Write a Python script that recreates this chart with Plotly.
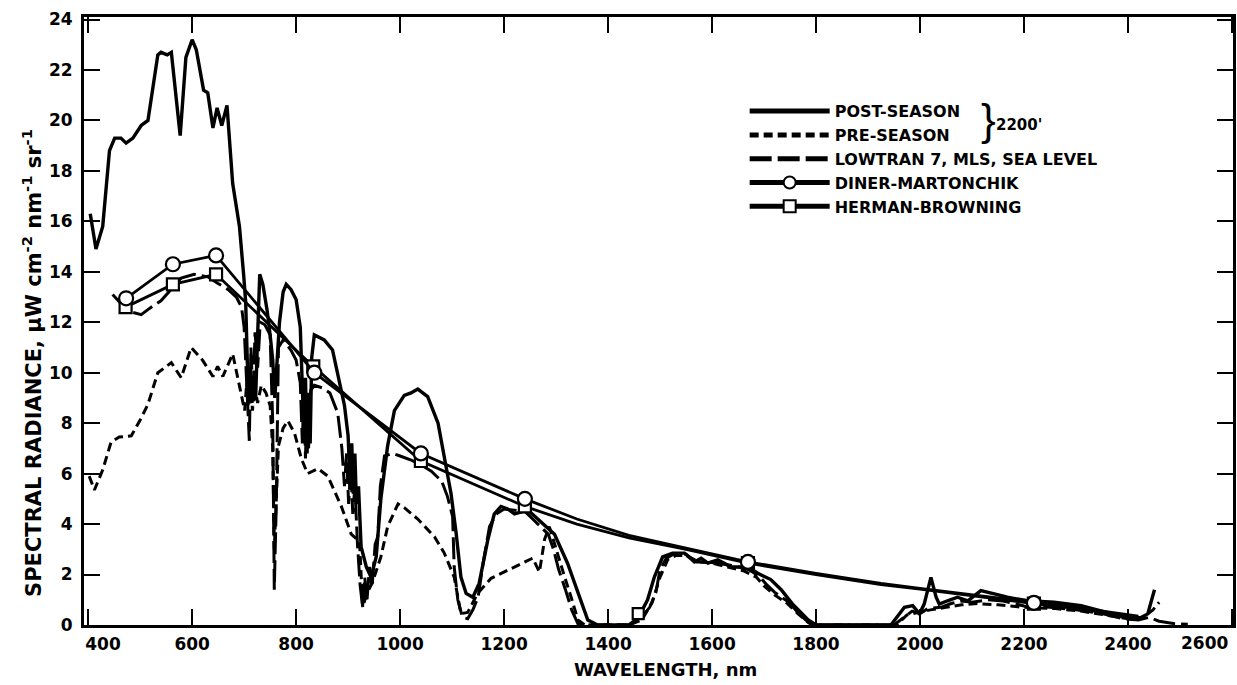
import plotly.graph_objects as go

# ---------------- data ----------------
post_nm = [404, 415, 428, 441, 451, 463, 473, 486, 502, 515, 534, 540, 552, 560, 577, 588, 600, 608, 622, 630,
           640, 648, 657, 667, 678, 691, 699, 703, 706, 709, 712, 715, 718, 722, 726, 730, 736, 744, 750, 755,
           759, 763, 768, 775, 781, 790, 800, 808, 812, 815, 818, 821, 824, 827, 830, 835, 845, 854, 870, 880,
           893, 900, 904, 907, 910, 913, 916, 920, 925, 935, 944, 954, 963, 976, 989, 1008, 1021, 1034, 1053, 1073,
           1085, 1098, 1108, 1117, 1127, 1140, 1152, 1169, 1181, 1194, 1207, 1220, 1246, 1265, 1297, 1322, 1342, 1361, 1380, 1440,
           1457, 1476, 1489, 1505, 1524, 1547, 1566, 1579, 1592, 1611, 1637, 1669, 1688, 1713, 1733, 1756, 1785, 1800, 1944, 1970,
           1986, 1999, 2008, 2021, 2031, 2037, 2053, 2072, 2092, 2117, 2143, 2168, 2207, 2258, 2310, 2361, 2406, 2425, 2438, 2451]
post_val = [16.3, 14.9, 15.8, 18.8, 19.3, 19.3, 19.1, 19.3, 19.8, 20.0, 22.6, 22.7, 22.6, 22.7, 19.4, 22.5, 23.2, 22.8, 21.2, 21.1,
            19.7, 20.5, 19.8, 20.6, 17.5, 15.8, 13.9, 12.8, 10.5, 9.0, 10.2, 8.8, 9.8, 8.9, 11.5, 13.9, 13.5, 12.5, 11.5, 10.5,
            9.0, 10.5, 12.0, 13.2, 13.5, 13.3, 12.9, 11.8, 9.5, 7.6, 9.8, 6.8, 9.2, 7.2, 10.6, 11.5, 11.4, 11.3, 10.9, 10.0,
            8.7, 7.5, 5.5, 7.2, 5.2, 6.8, 4.8, 5.5, 3.1, 2.3, 1.9, 2.7, 5.0, 7.1, 8.5, 9.1, 9.2, 9.35, 9.05, 8.0,
            6.7, 5.2, 3.6, 1.9, 1.25, 1.1, 1.65, 3.4, 4.4, 4.7, 4.6, 4.4, 4.55, 4.2, 3.6, 2.45, 1.25, 0.2, 0.0, 0.0,
            0.25, 1.0, 1.9, 2.7, 2.85, 2.85, 2.5, 2.65, 2.45, 2.58, 2.3, 2.3, 2.05, 1.8, 1.4, 0.8, 0.2, 0.0, 0.0, 0.7,
            0.77, 0.44, 0.83, 1.89, 1.1, 0.83, 0.96, 1.1, 0.96, 1.36, 1.23, 1.1, 0.96, 0.9, 0.77, 0.5, 0.24, 0.3, 0.44, 1.4]

pre_nm = [402, 412, 428, 444, 460, 483, 502, 515, 534, 560, 579, 598, 620, 640, 649, 659, 678, 694, 701, 705,
          708, 712, 716, 720, 726, 733, 742, 750, 755, 758, 762, 766, 775, 784, 797, 810, 822, 842, 861, 887,
          906, 922, 928, 935, 947, 963, 976, 996, 1008, 1034, 1066, 1085, 1104, 1117, 1130, 1149, 1175, 1220, 1255, 1268,
          1278, 1287, 1300, 1315, 1329, 1342, 1355, 1440, 1465, 1485, 1500, 1515, 1530, 1550, 1575, 1600, 1630, 1660, 1685, 1700,
          1720, 1745, 1765, 1785, 1795, 1955, 1975, 1995, 2020, 2050, 2080, 2110, 2150, 2200, 2260, 2310, 2360, 2400, 2430, 2448, 2460]
pre_val = [5.9, 5.35, 6.15, 7.25, 7.45, 7.5, 8.2, 8.75, 10.0, 10.4, 9.8, 11.0, 10.5, 9.85, 10.25, 9.85, 10.75, 9.2, 8.5, 9.6,
           8.7, 9.9, 8.5, 9.5, 8.8, 9.5, 9.2, 8.7, 7.0, 3.0, 5.2, 7.1, 7.8, 8.1, 7.6, 6.6, 6.0, 6.2, 5.9, 4.7,
           3.6, 3.3, 0.7, 1.2, 1.7, 2.7, 3.9, 4.8, 4.65, 4.2, 3.5, 2.85, 1.9, 0.45, 0.5, 1.25, 1.85, 2.3, 2.65, 2.1,
           3.4, 3.9, 3.0, 2.0, 1.1, 0.2, 0.0, 0.0, 0.2, 0.9, 1.9, 2.6, 2.75, 2.75, 2.5, 2.45, 2.3, 2.15, 1.9, 1.55,
           1.2, 0.85, 0.45, 0.1, 0.0, 0.0, 0.4, 0.5, 0.6, 0.7, 0.8, 0.85, 0.8, 0.7, 0.65, 0.55, 0.4, 0.25, 0.3, 0.6, 0.9]

low_nm = [447, 476, 502, 518, 540, 560, 579, 604, 630, 649, 669, 685, 695, 700, 705, 710, 713, 717, 721, 726,
          731, 740, 750, 755, 758, 762, 766, 775, 790, 800, 808, 812, 815, 818, 821, 824, 828, 835, 850, 865,
          880, 888, 893, 897, 901, 905, 909, 913, 918, 923, 928, 932, 936, 941, 946, 952, 957, 962, 970, 985,
          1000, 1020, 1040, 1060, 1080, 1091, 1101, 1104, 1111, 1120, 1130, 1140, 1150, 1160, 1172, 1185, 1200, 1220, 1240, 1255,
          1270, 1285, 1295, 1305, 1318, 1330, 1342, 1355, 1440, 1460, 1480, 1492, 1500, 1512, 1525, 1550, 1570, 1590, 1610, 1640,
          1670, 1690, 1705, 1720, 1748, 1765, 1780, 1792, 1950, 1965, 1985, 2000, 2015, 2040, 2060, 2080, 2100, 2130, 2160, 2200,
          2250, 2300, 2350, 2390, 2420, 2440, 2460, 2490, 2515]
low_val = [13.1, 12.45, 12.3, 12.55, 12.85, 13.3, 13.75, 13.9, 13.8, 13.55, 13.3, 13.0, 12.6, 11.8, 9.2, 7.3, 11.0, 9.0, 11.6, 10.2,
           12.0, 11.9, 11.5, 8.0, 1.4, 5.0, 11.0, 11.3, 10.9, 10.5, 9.6, 7.2, 9.5, 6.6, 9.0, 7.0, 9.3, 9.5, 9.4, 9.2,
           8.4, 7.0, 5.5, 6.8, 4.8, 6.3, 4.4, 5.5, 3.2, 1.6, 0.7, 1.9, 0.9, 2.3, 1.5, 3.2, 3.5, 5.5, 6.7, 6.8,
           6.7, 6.55, 6.35, 6.1, 5.7, 5.1, 4.3, 2.3, 1.0, 0.3, 0.25, 0.6, 1.1, 2.5, 3.9, 4.4, 4.6, 4.55, 4.5, 4.2,
           3.9, 3.6, 3.0, 2.2, 1.4, 0.6, 0.05, 0.0, 0.0, 0.2, 0.7, 1.3, 2.2, 2.65, 2.8, 2.8, 2.5, 2.5, 2.45, 2.35,
           2.2, 1.95, 1.6, 1.3, 0.9, 0.5, 0.2, 0.0, 0.0, 0.25, 0.55, 0.45, 0.65, 0.7, 0.85, 0.95, 0.9, 1.0, 0.95, 0.75,
           0.7, 0.6, 0.45, 0.25, 0.2, 0.3, 0.15, 0.05, 0.03]

dm_nm = [473, 563, 646, 835, 1040, 1240, 1340, 1440, 1550, 1669, 1800, 1925, 2000, 2100, 2219, 2300, 2420]
dm_val = [12.95, 14.3, 14.65, 10.0, 6.8, 5.0, 4.2, 3.55, 3.05, 2.5, 2.05, 1.65, 1.45, 1.2, 0.88, 0.7, 0.35]
dm_sampled = [1, 1, 1, 1, 1, 1, 0, 0, 0, 1, 0, 0, 0, 0, 1, 0, 0]

hb_nm = [472, 563, 646, 833, 1040, 1240, 1340, 1440, 1550, 1669, 1800, 1925, 2000, 2100, 2219, 2300, 2420]
hb_val = [12.6, 13.5, 13.9, 10.25, 6.5, 4.7, 4.0, 3.45, 3.0, 2.45, 2.0, 1.6, 1.42, 1.15, 0.85, 0.65, 0.3]
hb_sampled = [1, 1, 1, 1, 1, 1, 0, 0, 0, 1, 0, 0, 0, 0, 1, 0, 0]

hb_extra_nm = [1458]
hb_extra_val = [0.45]

x_ticks = [400, 600, 800, 1000, 1200, 1400, 1600, 1800, 2000, 2200, 2400, 2600]
y_ticks = [0, 2, 4, 6, 8, 10, 12, 14, 16, 18, 20, 22, 24]

# ---------------- figure ----------------
FONT = "DejaVu Sans, Liberation Sans, sans-serif"
BLACK = "#000000"
NB = "\u00a0"

fig = go.Figure()

fig.add_trace(go.Scatter(x=post_nm, y=post_val, mode="lines", name="POST-SEASON",
                         line=dict(color=BLACK, width=3.4), legendrank=1))
fig.add_trace(go.Scatter(x=pre_nm, y=pre_val, mode="lines", name="PRE-SEASON",
                         line=dict(color=BLACK, width=3, dash="9px,5px"), legendrank=2))
fig.add_trace(go.Scatter(x=low_nm, y=low_val, mode="lines", name="LOWTRAN 7, MLS, SEA LEVEL",
                         line=dict(color=BLACK, width=3, dash="22px,6px"), legendrank=3))
fig.add_trace(go.Scatter(x=hb_nm, y=hb_val, mode="lines+markers", name="HERMAN-BROWNING",
                         line=dict(color=BLACK, width=2.8),
                         marker=dict(symbol="square", size=[12 if s else 0 for s in hb_sampled],
                                     color="white", opacity=1, line=dict(color=BLACK, width=2.2)),
                         legendrank=5))
fig.add_trace(go.Scatter(x=hb_extra_nm, y=hb_extra_val, mode="markers", showlegend=False,
                         marker=dict(symbol="square", size=11, color="white", opacity=1,
                                     line=dict(color=BLACK, width=2.2))))
fig.add_trace(go.Scatter(x=dm_nm, y=dm_val, mode="lines+markers", name="DINER-MARTONCHIK",
                         line=dict(color=BLACK, width=2.8),
                         marker=dict(symbol="circle", size=[14 if s else 0 for s in dm_sampled],
                                     color="white", opacity=1, line=dict(color=BLACK, width=2.2)),
                         legendrank=4))

axis_common = dict(
    showline=True, linecolor=BLACK, linewidth=3, mirror="ticks",
    ticks="inside", ticklen=16, tickwidth=2, tickcolor=BLACK,
    showgrid=False, zeroline=False, automargin=False, ticklabeloverflow="allow",
    tickfont=dict(family=FONT, size=17, color=BLACK, weight="bold"),
)

# the first label sits to the right of its tick, the last one is drawn flush with the frame
x_text = [str(v) for v in x_ticks]
x_text[0] = NB * 5 + x_text[0]
last_label = x_text[-1]
x_text[-1] = ""

fig.update_xaxes(range=[392, 2602], tickvals=x_ticks, ticktext=x_text, ticklabelstandoff=2,
                 **axis_common)
fig.update_yaxes(range=[0, 24.1], tickvals=y_ticks, ticklabelstandoff=5, **axis_common)

fig.add_annotation(text=last_label, xref="x", yref="paper", x=x_ticks[-1], y=-0.0296,
                   xanchor="right", yanchor="middle", xshift=-2, showarrow=False,
                   font=dict(family=FONT, size=17, color=BLACK, weight="bold"))
fig.add_annotation(text="WAVELENGTH, nm",
                   xref="paper", yref="paper", x=0.506, y=-0.0724, xanchor="center", yanchor="middle",
                   showarrow=False, font=dict(family=FONT, size=18, color=BLACK, weight="bold"))
fig.add_annotation(text="SPECTRAL RADIANCE, \u03bcW cm<sup>-2</sup> nm<sup>-1</sup> sr<sup>-1</sup>",
                   xref="paper", yref="paper", x=-0.0453, y=0.431, xanchor="center", yanchor="middle",
                   textangle=-90, showarrow=False,
                   font=dict(family=FONT, size=21, color=BLACK, weight="bold"))
fig.add_annotation(text="}", xref="paper", yref="paper", x=0.787, y=0.832,
                   xanchor="center", yanchor="middle", showarrow=False,
                   font=dict(family="Liberation Sans", size=44, color=BLACK))
fig.add_annotation(text="2200'", xref="paper", yref="paper", x=0.814, y=0.822,
                   xanchor="center", yanchor="middle", showarrow=False,
                   font=dict(family=FONT, size=15, color=BLACK, weight="bold"))

fig.update_layout(
    width=1237, height=685,
    margin=dict(l=84, r=4, t=17, b=60, autoexpand=False),
    paper_bgcolor="white", plot_bgcolor="white",
    font=dict(family=FONT, size=17, color=BLACK),
    legend=dict(x=0.575, y=0.873, xanchor="left", yanchor="top",
                bgcolor="rgba(0,0,0,0)", borderwidth=0, itemwidth=80, itemsizing="constant",
                font=dict(family=FONT, size=16, color=BLACK, weight="bold")),
)

fig.write_html("out.html", config={"displayModeBar": False},
               post_script="document.body.style.margin='0px';")
